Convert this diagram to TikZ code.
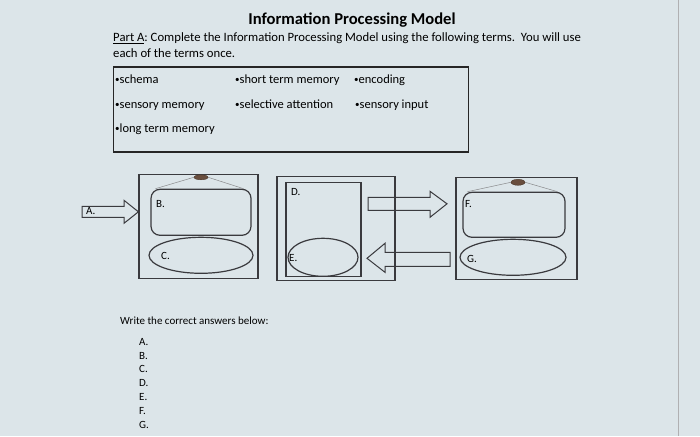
\documentclass[tikz,border=0pt]{standalone}
\usepackage{fontspec}
\setmainfont{Carlito}
\usetikzlibrary{positioning,shapes.geometric}
\definecolor{paper}{RGB}{220,229,233}
\definecolor{ink}{RGB}{58,58,62}
\definecolor{lidbrown}{RGB}{105,78,62}
\newcommand{\dotmark}{\raisebox{0.2ex}{\fontsize{9}{9}\selectfont•}}
\tikzset{stage/.style={draw=ink,line width=1.2pt,inner sep=0pt}}
\tikzset{store/.style={stage,rounded corners=9pt}}
\tikzset{pool/.style={stage,ellipse}}
\tikzset{lid/.style={ellipse,draw=lidbrown!70!black,fill=lidbrown,inner sep=0pt}}
\tikzset{tag/.style={anchor=base west,inner sep=0pt,font=\fontsize{11}{12}\selectfont}}
\tikzset{term/.style={anchor=base west,inner sep=0pt,font=\fontsize{12.5}{14}\selectfont}}
\tikzset{hollow/.style={draw=ink,line width=1pt,line join=miter}}
\tikzset{feed/.style={draw=ink!60,line width=0.5pt}}

\begin{document}
\begin{tikzpicture}[x=1pt,y=-1pt]
        \fill[paper] (0,0) rectangle (700,436);
        \draw[ink!40,line width=0.6pt] (678,0) -- (678,436);
        % heading
        \node[anchor=base,inner sep=0pt,font=\bfseries\fontsize{16.6}{19}\selectfont] (title) at (352,24) {Information Processing Model};
        \node[anchor=base west,inner sep=0pt,font=\fontsize{12.7}{15}\selectfont] (parta) at (113,41.5) {\underline{Part A}:\ Complete the Information Processing Model using the following terms.\ \ You will use};
        \node[anchor=base west,inner sep=0pt,font=\fontsize{12.7}{15}\selectfont] (once) at (113,57) {each of the terms once.};
        % word bank
        \node[draw=black!85,line width=1.8pt,minimum width=355pt,minimum height=85pt,inner sep=0pt] (bank) at (291,109) {};
        \node[term] (t1) at (115,83.5) {\dotmark schema};
        \node[term] (t2) at (235,83.5) {\dotmark short term memory};
        \node[term] (t3) at (354,83.5) {\dotmark encoding};
        \node[term] (t4) at (115,108) {\dotmark sensory memory};
        \node[term] (t5) at (235,108) {\dotmark selective attention};
        \node[term] (t6) at (355,108) {\dotmark sensory input};
        \node[term] (t7) at (115,132) {\dotmark long term memory};
        % sensory memory stage
        \node[stage,minimum width=119pt,minimum height=104pt] (sm) at (198.5,226) {};
        \node[store,minimum width=100pt,minimum height=46pt] (b) at (201,212) {};
        \node[pool,minimum width=104pt,minimum height=36pt] (c) at (201,255) {};
        \node[lid,minimum width=14pt,minimum height=5pt] (lid1) at (201,177) {};
            \path[feed] (lid1.west) -- ([xshift=5pt]b.north west);
            \path[feed] (lid1.east) -- ([xshift=-8pt]b.north east);
        % short term memory stage
        \node[stage,minimum width=118pt,minimum height=104pt] (stm) at (336,228) {};
        \node[stage,minimum width=75pt,minimum height=94pt] (d) at (323.5,229) {};
        \node[pool,minimum width=70pt,minimum height=38pt] (e) at (323,257) {};
        % long term memory stage
        \node[stage,minimum width=121pt,minimum height=102pt] (ltm) at (516.5,228) {};
        \node[store,minimum width=102pt,minimum height=45pt] (f) at (514,214.5) {};
        \node[pool,minimum width=106pt,minimum height=36pt] (g) at (513,257) {};
        \node[lid,minimum width=14pt,minimum height=6pt] (lid3) at (518,182) {};
            \path[feed] (lid3.west) -- ([xshift=5pt]f.north west);
            \path[feed] (lid3.east) -- ([xshift=-8pt]f.north east);
        % block arrows
        \coordinate (ain) at (82,211.5);
        \draw[hollow] (ain) ++(0,-5.5) -- ++(42,0) -- ++(0,-6) -- (sm.west |- ain) -- (124,223) -- (124,217) -- (82,217) -- cycle;
        \coordinate (fwd) at (368,203.5);
        \draw[hollow] (fwd) ++(0,-6.5) -- (430,197) -- (430,191) -- (447,203.5) -- (430,217) -- (430,210) -- (368,210) -- cycle;
        \coordinate (back) at (450,258);
        \draw[hollow] (back) ++(0,-6) -- (385,252) -- (385,243) -- (367,258) -- (385,272) -- (385,266) -- (450,266) -- cycle;
        % stage letters
        \node[tag] (la) at (86,214) {A.};
        \node[tag] (lb) at (156,207) {B.};
        \node[tag] (lc) at (161,259) {C.};
        \node[tag] (ld) at (291,195) {D.};
        \node[tag] (le) at (289,261) {E.};
        \node[tag] (lf) at (465,207) {F.};
        \node[tag] (lg) at (467,262) {G.};
        % answers
        \node[tag] (ask) at (120,324) {Write the correct answers below:};
        \foreach \letter [count=\i from 0] in {A,B,C,D,E,F,G}
            \node[tag] (ans\letter) at (139,345+13.8*\i) {\letter.};
\end{tikzpicture}
\end{document}
